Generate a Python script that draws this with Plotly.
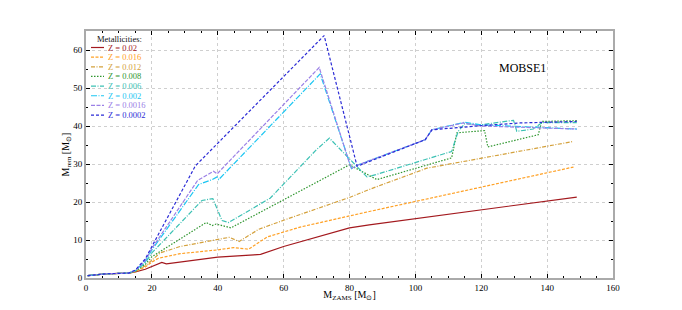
import plotly.graph_objects as go

# ---- data ----
labels = ["Z = 0.02", "Z = 0.016", "Z = 0.012", "Z = 0.008",
          "Z = 0.006", "Z = 0.002", "Z = 0.0016", "Z = 0.0002"]

m_z0020 = [0.5, 6, 13, 15, 18, 20, 23, 24.4, 30, 40, 51, 53, 60, 80, 86, 149]
r_z0020 = [0.6, 1.1, 1.3, 1.6, 2.3, 3.1, 4.1, 3.7, 4.4, 5.5, 6.1, 6.2, 8.3, 13.2, 14.0, 21.3]

m_z0016 = [0.5, 6, 13, 15, 18, 20, 22, 28.6, 40, 44.8, 49.4, 55, 65, 80, 86, 148]
r_z0016 = [0.6, 1.1, 1.3, 1.7, 2.9, 4.2, 5.2, 6.4, 7.4, 8.0, 7.6, 10.8, 13.4, 16.4, 17.5, 29.2]

m_z0012 = [0.5, 6, 13, 15, 18, 20, 22.5, 28.6, 35.7, 40, 43.5, 46.5, 52.4, 60, 80, 86.3, 103.5, 147.7]
r_z0012 = [0.6, 1.1, 1.3, 1.7, 3.2, 4.8, 6.6, 8.3, 9.4, 10.1, 10.7, 9.6, 12.8, 15.2, 21.2, 23.4, 28.9, 35.9]

m_z0008 = [0.5, 6, 13, 15, 18, 20, 36.5, 38.3, 39.5, 44, 80, 88.3, 111, 112.6, 121, 122, 137.3, 138.4, 149]
r_z0008 = [0.6, 1.1, 1.3, 1.8, 3.6, 5.6, 14.6, 13.8, 14.2, 13.2, 29.8, 25.9, 31.6, 38.2, 38.8, 34.5, 37.7, 41.2, 41.4]

m_z0006 = [0.5, 6, 13, 15, 18, 20, 35.2, 38.5, 41.3, 43.3, 55.9, 70, 73.9, 85.3, 88, 111, 113, 115,
           119.7, 129.8, 130.8, 135.8, 138.4, 149]
r_z0006 = [0.6, 1.1, 1.3, 1.9, 4.0, 6.6, 20.4, 20.9, 15.1, 14.6, 21.0, 33.8, 36.8, 26.6, 27.2, 33.3,
           38.6, 40.6, 40.3, 41.5, 38.6, 39.2, 40.9, 40.9]

m_z0002 = [0.5, 6, 13, 15, 18, 20, 34.2, 38.3, 39.8, 40.3, 71.1, 80.6, 82.7, 103, 105, 115, 120, 149]
r_z0002 = [0.6, 1.1, 1.3, 2.0, 4.4, 7.4, 24.6, 25.9, 26.6, 25.9, 53.7, 28.8, 29.8, 36.4, 39.0, 41.0, 40.3, 39.2]

m_z00016 = [0.5, 6, 13, 15, 18, 20, 33.9, 38.7, 39.8, 70.8, 80.5, 82.7, 103, 105, 114.6, 120, 149]
r_z00016 = [0.6, 1.1, 1.3, 2.0, 4.6, 7.8, 25.7, 28.1, 27.4, 55.4, 28.8, 29.8, 36.4, 39.0, 40.8, 40.0, 39.2]

m_z00002 = [0.5, 6, 13, 15, 18, 20, 33.2, 72.3, 82.3, 103, 105, 107.5, 120, 131.8, 149]
r_z00002 = [0.6, 1.1, 1.3, 2.1, 5.0, 8.3, 29.5, 63.8, 29.4, 36.4, 39.0, 39.2, 40.1, 40.8, 41.2]

x_ticks = [0, 20, 40, 60, 80, 100, 120, 140, 160]
y_ticks = [0, 10, 20, 30, 40, 50, 60]

# ---- styles ----
colors = ["#a3191e", "#ffa126", "#d4a13c", "#2f962f", "#3cc1b4", "#1cc6f2", "#9b80e6", "#2b2bd6"]
dashes = ["solid", "3px,1.5px", "4px,1.5px,1px,1.5px", "1.5px,1.5px",
          "5px,1.5px,1px,1.5px", "6px,1.5px,1px,1.5px", "4px,1.5px", "3px,2px"]

series_m = [m_z0020, m_z0016, m_z0012, m_z0008, m_z0006, m_z0002, m_z00016, m_z00002]
series_r = [r_z0020, r_z0016, r_z0012, r_z0008, r_z0006, r_z0002, r_z00016, r_z00002]

FONT = "Liberation Serif"

fig = go.Figure()
for lab, xs, ys, c, d in zip(labels, series_m, series_r, colors, dashes):
    fig.add_trace(go.Scatter(x=xs, y=ys, mode="lines", name=lab,
                             line=dict(color=c, width=1.2, dash=d),
                             showlegend=False))

# page body has an 8px default margin, so compensate
OFF = 8
FIG_W, FIG_H = 682 - 2 * OFF, 310 - 2 * OFF
L, W = 86 - OFF, 527
T, H = 31 - OFF, 247

def px2paper_x(px): return (px - OFF - L) / W
def py2paper_y(py): return (T + H - (py - OFF)) / H

shapes = []
annotations = []
annotations.append(dict(x=px2paper_x(95), y=py2paper_y(38.5), xref="paper", yref="paper",
                        text="Metallicities:", showarrow=False, xanchor="left", yanchor="middle",
                        font=dict(family=FONT, size=8.5, color="#111111")))
for i, (lab, c, d) in enumerate(zip(labels, colors, dashes)):
    py = 47.5 + 9.65 * i
    shapes.append(dict(type="line", xref="paper", yref="paper",
                       x0=px2paper_x(91), x1=px2paper_x(104),
                       y0=py2paper_y(py), y1=py2paper_y(py),
                       line=dict(color=c, width=1.2, dash=d)))
    annotations.append(dict(x=px2paper_x(106), y=py2paper_y(py), xref="paper", yref="paper",
                            text=lab, showarrow=False, xanchor="left", yanchor="middle",
                            font=dict(family=FONT, size=8.5, color=c)))

annotations.append(dict(x=132.5, y=55.3, xref="x", yref="y", text="MOBSE1", showarrow=False,
                        font=dict(family=FONT, size=12, color="black")))

axis_common = dict(
    showline=True, linecolor="#aaaaaa", linewidth=2, mirror="ticks",
    ticks="inside", ticklen=4, tickcolor="black", tickwidth=1,
    showgrid=True, gridcolor="#cfcfcf", gridwidth=0.8, griddash="dot",
    zeroline=False, automargin=False,
    tickfont=dict(family=FONT, size=9, color="black"),
)

fig.update_layout(
    width=FIG_W, height=FIG_H,
    margin=dict(l=L, r=FIG_W - L - W, t=T, b=FIG_H - T - H),
    paper_bgcolor="white", plot_bgcolor="white",
    xaxis=dict(range=[0, 160], tickvals=x_ticks, **axis_common,
               minor=dict(dtick=5, ticklen=2, ticks="inside", tickcolor="black", showgrid=False),
               title=dict(text="M<sub>ZAMS</sub> [M<sub>⊙</sub>]", standoff=9,
                          font=dict(family=FONT, size=10, color="black"))),
    yaxis=dict(range=[0, 65], tickvals=y_ticks, **axis_common,
               minor=dict(dtick=5, ticklen=2, ticks="inside", tickcolor="black", showgrid=False),
               title=dict(text="M<sub>rem</sub> [M<sub>⊙</sub>]", standoff=2,
                          font=dict(family=FONT, size=10, color="black"))),
    shapes=shapes, annotations=annotations,
)

fig.write_html("out.html")
